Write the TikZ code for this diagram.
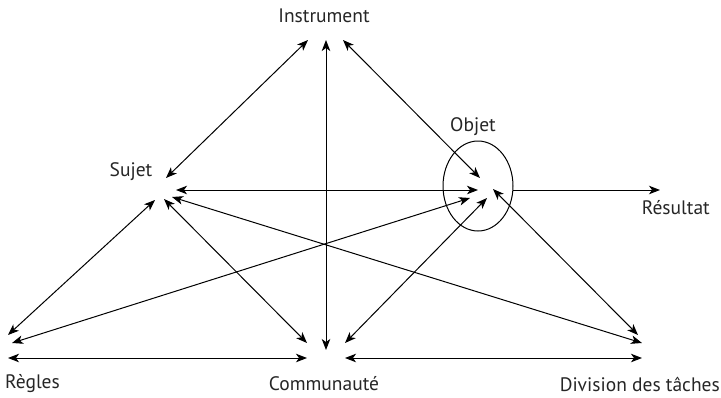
\documentclass[tikz,border=0pt]{standalone}
\usepackage{fontspec}
\setmainfont{PT Sans}
\usetikzlibrary{arrows.meta,shapes.geometric}
\begin{document}
\begin{tikzpicture}[x=1pt,y=-1pt,
  lbl/.style={font=\fontsize{19.5}{22}\selectfont, text=black!85, inner sep=0pt},
  conn/.style={line width=1pt, {Stealth[length=11pt,width=8.5pt,inset=3pt]}-{Stealth[length=11pt,width=8.5pt,inset=3pt]}},
  oneway/.style={line width=1pt, -{Stealth[length=11pt,width=8.5pt,inset=3pt]}}]
\useasboundingbox (0,0) rectangle (721,397);
% labels
\node[lbl] (instr) at (324,16) {Instrument};
\node[lbl] (sujet) at (131,172) {Sujet};
\node[lbl] (objet) at (473,127) {Objet};
\node[lbl, anchor=east] (res) at (710,208) {Résultat};
\node[lbl, anchor=west] (regles) at (5,384) {Règles};
\node[lbl] (comm) at (324,384) {Communauté};
\node[lbl, anchor=east] (div) at (720,384) {Division des tâches};
% ellipse around objet
\node[draw, line width=1pt, ellipse, minimum width=70pt, minimum height=90pt, inner sep=0pt] (ell) at (478,186) {};
% endpoints
\coordinate (Ia) at (308,40);
\coordinate (Ib) at (326,40);
\coordinate (Ic) at (343,40);
\coordinate (Sa) at (166,178);
\coordinate (Sb) at (176,190);
\coordinate (Sc) at (155,200);
\coordinate (Sd) at (164,199);
\coordinate (Se) at (172,197);
\coordinate (Oa) at (480,178);
\coordinate (Ob) at (478,190);
\coordinate (Oc) at (470,198);
\coordinate (Od) at (487,198);
\coordinate (Oe) at (493,189);
\coordinate (Oout) at (513,190);
\coordinate (Rt) at (660,190);
\coordinate (Ra) at (8,335);
\coordinate (Rb) at (12,343);
\coordinate (Rc) at (8,358);
\coordinate (Ca) at (307,343);
\coordinate (Cb) at (326,350);
\coordinate (Cc) at (345,343);
\coordinate (Cd) at (307,358);
\coordinate (Ce) at (345,358);
\coordinate (Da) at (638,335);
\coordinate (Db) at (642,343);
\coordinate (Dc) at (642,358);
% connectors
\draw[conn] (Ia) -- (Sa);
\draw[conn] (Ib) -- (Cb);
\draw[conn] (Ic) -- (Oa);
\draw[conn] (Sb) -- (Ob);
\draw[conn] (Sc) -- (Ra);
\draw[conn] (Sd) -- (Ca);
\draw[conn] (Se) -- (Db);
\draw[conn] (Oc) -- (Rb);
\draw[conn] (Od) -- (Cc);
\draw[conn] (Oe) -- (Da);
\draw[conn] (Rc) -- (Cd);
\draw[conn] (Ce) -- (Dc);
\draw[oneway] (Oout) -- (Rt);
\end{tikzpicture}
\end{document}
